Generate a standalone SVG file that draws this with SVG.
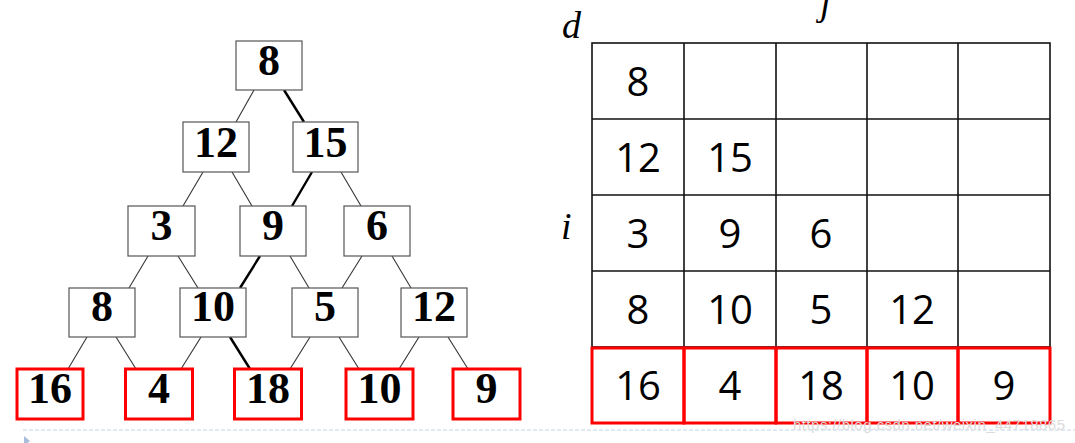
<svg xmlns="http://www.w3.org/2000/svg" width="1075" height="443" viewBox="0 0 1075 443">
<style>
.box{fill:#fff;stroke:#555;stroke-width:1.2}
.red{fill:#fff;stroke:#f00;stroke-width:3}
.tv{font-family:"Liberation Serif",serif;font-weight:bold;font-size:44px;text-anchor:middle;fill:#000}
.e{stroke:#333;stroke-width:1.1;fill:none}
.eb{stroke:#000;stroke-width:2.4;fill:none}
.cell{fill:none;stroke:#111;stroke-width:1.6}
.rcell{fill:none;stroke:#f00;stroke-width:3}
.gv{font-family:"Open Sans",Lato,sans-serif;font-size:40px;text-anchor:middle;fill:#000}
.lab{font-family:"Liberation Serif",serif;font-style:italic;font-size:38px;fill:#000}
</style>
<rect width="1075" height="443" fill="#fff"/>
<g id="connectors">
<line class="e" x1="254" y1="90" x2="236" y2="122"/>
<line class="eb" x1="284" y1="90" x2="304" y2="122"/>
<line class="e" x1="203" y1="172" x2="183" y2="206"/>
<line class="e" x1="232" y1="172" x2="252" y2="206"/>
<line class="eb" x1="312" y1="172" x2="292" y2="206"/>
<line class="e" x1="341" y1="172" x2="361" y2="206"/>
<line class="e" x1="148" y1="256" x2="129" y2="288"/>
<line class="e" x1="178" y1="256" x2="198" y2="288"/>
<line class="eb" x1="260" y1="256" x2="240" y2="288"/>
<line class="e" x1="290" y1="256" x2="309" y2="288"/>
<line class="e" x1="362" y1="256" x2="342" y2="288"/>
<line class="e" x1="392" y1="256" x2="411" y2="288"/>
<line class="e" x1="87" y1="337" x2="68" y2="369"/>
<line class="e" x1="116" y1="337" x2="136" y2="369"/>
<line class="e" x1="201" y1="337" x2="181" y2="369"/>
<line class="eb" x1="230" y1="337" x2="250" y2="369"/>
<line class="e" x1="310" y1="337" x2="290" y2="369"/>
<line class="e" x1="339" y1="337" x2="359" y2="369"/>
<line class="e" x1="419" y1="337" x2="399" y2="369"/>
<line class="e" x1="448" y1="337" x2="468" y2="369"/>
</g>
<g id="t-8"><rect class="box" x="236" y="41" width="66" height="49"/><text class="tv" x="269" y="75">8</text></g>
<g id="t-12"><rect class="box" x="183" y="122" width="66" height="50"/><text class="tv" x="216" y="157">12</text></g>
<g id="t-15"><rect class="box" x="293" y="122" width="65" height="50"/><text class="tv" x="325.5" y="157">15</text></g>
<g id="t-3"><rect class="box" x="128" y="206" width="67" height="50"/><text class="tv" x="161.5" y="240">3</text></g>
<g id="t-9"><rect class="box" x="240" y="206" width="66" height="50"/><text class="tv" x="273" y="240">9</text></g>
<g id="t-6"><rect class="box" x="344" y="206" width="66" height="50"/><text class="tv" x="377" y="240">6</text></g>
<g id="t-8b"><rect class="box" x="69" y="288" width="66" height="49"/><text class="tv" x="102" y="321">8</text></g>
<g id="t-10"><rect class="box" x="180" y="288" width="66" height="49"/><text class="tv" x="213" y="321">10</text></g>
<g id="t-5"><rect class="box" x="292" y="288" width="66" height="49"/><text class="tv" x="325" y="321">5</text></g>
<g id="t-12b"><rect class="box" x="401" y="288" width="66" height="49"/><text class="tv" x="434" y="321">12</text></g>
<g id="t-16"><rect class="red" x="17" y="369" width="66" height="50"/><text class="tv" x="50" y="403">16</text></g>
<g id="t-4"><rect class="red" x="125.5" y="369" width="67" height="50"/><text class="tv" x="159" y="403">4</text></g>
<g id="t-18"><rect class="red" x="234.5" y="369" width="67" height="50"/><text class="tv" x="268" y="403">18</text></g>
<g id="t-10b"><rect class="red" x="346" y="369" width="67" height="50"/><text class="tv" x="379.5" y="403">10</text></g>
<g id="t-9b"><rect class="red" x="453" y="369" width="67" height="50"/><text class="tv" x="486.5" y="403">9</text></g>
<g id="grid">
<rect class="cell" x="592" y="43" width="458" height="304"/>
<line class="cell" x1="684" y1="43" x2="684" y2="347"/>
<line class="cell" x1="776" y1="43" x2="776" y2="347"/>
<line class="cell" x1="867" y1="43" x2="867" y2="347"/>
<line class="cell" x1="958" y1="43" x2="958" y2="347"/>
<line class="cell" x1="592" y1="119" x2="1050" y2="119"/>
<line class="cell" x1="592" y1="195" x2="1050" y2="195"/>
<line class="cell" x1="592" y1="271" x2="1050" y2="271"/>
<rect class="rcell" x="592" y="348" width="92" height="75"/>
<rect class="rcell" x="684" y="348" width="92" height="75"/>
<rect class="rcell" x="776" y="348" width="91" height="75"/>
<rect class="rcell" x="867" y="348" width="91" height="75"/>
<rect class="rcell" x="958" y="348" width="92" height="75"/>
<text class="gv" x="638" y="96">8</text>
<text class="gv" x="638" y="172">12</text><text class="gv" x="730" y="172">15</text>
<text class="gv" x="638" y="248">3</text><text class="gv" x="730" y="248">9</text><text class="gv" x="821" y="248">6</text>
<text class="gv" x="638" y="324">8</text><text class="gv" x="730" y="324">10</text><text class="gv" x="821" y="324">5</text><text class="gv" x="912" y="324">12</text>
<text class="gv" x="638" y="400">16</text><text class="gv" x="730" y="400">4</text><text class="gv" x="821" y="400">18</text><text class="gv" x="912" y="400">10</text><text class="gv" x="1004" y="400">9</text>
</g>
<text class="lab" x="562" y="38">d</text>
<text class="lab" x="561" y="239">i</text>
<text class="lab" x="820" y="15">j</text>
<line x1="23" y1="430" x2="1075" y2="430" stroke="#c3d2e4" stroke-width="1" stroke-dasharray="4 2"/>
<polygon points="24,436 24,446 30,441" fill="#a9bedc"/>
<text x="793" y="430" font-family="Liberation Sans,sans-serif" font-size="15" fill="#dcdcdc" textLength="272">https://blog.csdn.net/weixin_44718865</text>
</svg>
